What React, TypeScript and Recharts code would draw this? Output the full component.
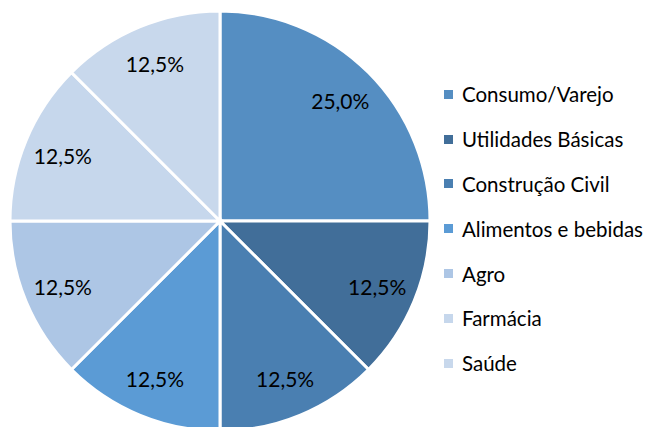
import { PieChart, Pie, Cell, Legend } from 'recharts';

const SETORES = ['Consumo/Varejo', 'Utilidades Básicas', 'Construção Civil', 'Alimentos e bebidas', 'Agro', 'Farmácia', 'Saúde'];
const PESOS = [25.0, 12.5, 12.5, 12.5, 12.5, 12.5, 12.5];
const CORES = ['#558ec2', '#416e99', '#4a7fb1', '#5b9bd5', '#adc6e5', '#c6d7ec', '#c8d8ec'];

const FONT = 'Lato, "Liberation Sans", sans-serif';
const RADIAN = Math.PI / 180;

const chartData = SETORES.map((nome, i) => ({ name: nome, value: PESOS[i] }));

function renderLabel(props: any) {
  const { cx, cy, midAngle, outerRadius, value } = props;
  const r = outerRadius * 0.81;
  const x = cx + r * Math.cos(-midAngle * RADIAN);
  const y = cy + r * Math.sin(-midAngle * RADIAN);
  return (
    <text x={x} y={y} fill="#000" fontSize={21} fontFamily={FONT} textAnchor="middle" dominantBaseline="central">
      {`${Number(value).toFixed(1).replace('.', ',')}%`}
    </text>
  );
}

function LegendaSetores() {
  return (
    <div style={{ fontFamily: FONT }}>
      {SETORES.map((nome, i) => (
        <div key={nome} style={{ height: 44.8, display: 'flex', alignItems: 'center' }}>
          <span style={{ width: 9, height: 9, background: CORES[i], display: 'inline-block', marginRight: 9 }} />
          <span style={{ fontSize: 20.5, color: '#000', whiteSpace: 'nowrap' }}>{nome}</span>
        </div>
      ))}
    </div>
  );
}

export default function App() {
  return (
    <div style={{ position: 'fixed', left: 0, top: 0, width: 660, height: 427, background: '#fff' }}>
      <PieChart width={660} height={427} margin={{ top: 0, right: 0, bottom: 0, left: 0 }}>
        <Pie
          data={chartData}
          dataKey="value"
          cx={220}
          cy={221}
          outerRadius={210}
          startAngle={90}
          endAngle={-270}
          stroke="#fff"
          strokeWidth={3}
          labelLine={false}
          label={renderLabel}
          isAnimationActive={false}
        >
          {chartData.map((entry, index) => (
            <Cell key={`cell-${index}`} fill={CORES[index]} />
          ))}
        </Pie>
        <Legend
          content={<LegendaSetores />}
          layout="vertical"
          wrapperStyle={{ position: 'absolute', left: 444, top: 72, width: 216 }}
        />
      </PieChart>
    </div>
  );
}
